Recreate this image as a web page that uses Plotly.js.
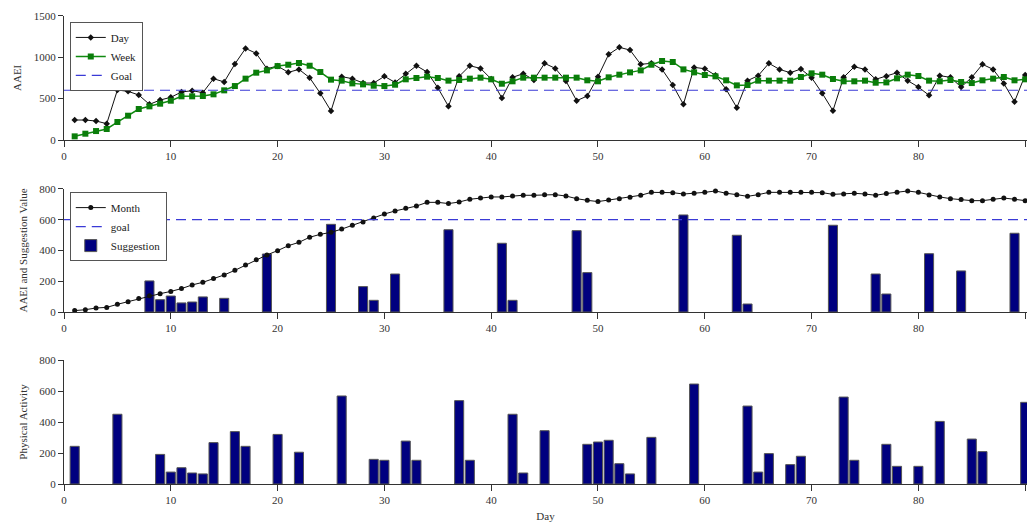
<!DOCTYPE html>
<html>
<head>
<meta charset="utf-8">
<script src="https://cdn.plot.ly/plotly-3.0.1.min.js"></script>
<style>html,body{margin:0;padding:0;background:#fff;}#chart{width:1027px;height:522px;}</style>
</head>
<body>
<div id="chart"></div>
<script>
const days = Array.from({length: 90}, (_, i) => i + 1);

const dayAAEI = [241,241,229,197,603,587,543,430,482,515,579,595,571,740,700,917,1105,1045,860,892,
  816,852,752,563,350,764,740,687,687,768,695,800,896,820,631,406,768,896,864,736,
  506,756,800,724,925,864,712,474,531,764,1033,1118,1085,913,925,852,663,430,876,860,
  780,611,390,716,776,925,852,812,856,752,563,354,756,884,852,732,768,812,716,639,
  539,776,756,639,756,913,852,683,462,784];

const weekAAEI = [44,76,108,133,217,293,374,406,438,474,527,527,531,551,599,651,740,812,840,892,
  908,929,896,820,728,716,683,671,655,651,667,732,748,764,748,716,724,740,752,732,
  679,708,752,752,752,752,752,752,720,708,756,788,816,840,908,953,941,852,816,784,
  768,720,659,663,716,716,716,716,760,804,788,736,708,708,716,691,695,744,788,772,
  716,708,724,700,687,720,740,760,720,732];

const monthAAEI = [9,15,26,30,50,67,87,106,119,134,152,176,193,217,241,271,306,340,371,399,
  431,453,486,505,518,539,564,585,611,637,657,674,689,713,713,705,715,733,741,748,
  748,754,759,759,763,763,754,737,726,718,728,737,746,759,778,778,776,767,772,778,
  787,772,763,752,763,778,778,778,778,778,776,765,767,772,767,759,770,778,787,778,
  761,748,737,731,724,724,733,741,733,724];

const goalValue = 600;

const suggestionDays = [8,9,10,11,12,13,15,19,25,28,29,31,36,41,42,48,49,58,63,64,72,76,77,81,84,89];
const suggestionValues = [202,80,104,59,65,98,89,377,570,165,76,247,535,447,76,529,256,631,499,52,564,247,117,379,267,512];

const activityDays = [1,5,9,10,11,12,13,14,16,17,20,22,26,29,30,32,33,37,38,42,43,45,49,50,51,52,53,55,59,64,65,66,68,69,73,74,77,78,80,82,85,86,90];
const activityValues = [243,450,191,77,105,71,65,267,338,243,320,205,568,159,153,277,153,538,153,450,71,344,256,271,282,131,65,301,645,503,77,196,125,179,561,153,256,114,114,404,290,209,527];

const xTicks = [0,10,20,30,40,50,60,70,80,90];

const FONT = 'Liberation Serif, Times New Roman, serif';
const AX = '#333333';
const xRange = [0, 90.17];

const traces = [
  {x: days, y: dayAAEI, name: 'Day', type: 'scatter', mode: 'lines+markers',
   line: {color: '#111111', width: 1}, marker: {symbol: 'diamond', size: 5, color: '#111111'},
   xaxis: 'x', yaxis: 'y', legend: 'legend', cliponaxis: false},
  {x: days, y: weekAAEI, name: 'Week', type: 'scatter', mode: 'lines+markers',
   line: {color: '#108a10', width: 1.5}, marker: {symbol: 'square', size: 6, color: '#0a7d0a'},
   xaxis: 'x', yaxis: 'y', legend: 'legend', cliponaxis: false},
  {x: [0, 90.17], y: [goalValue, goalValue], name: 'Goal', type: 'scatter', mode: 'lines',
   line: {color: '#3a3ad6', width: 1.2, dash: '10px,6px'},
   xaxis: 'x', yaxis: 'y', legend: 'legend'},

  {x: days, y: monthAAEI, name: 'Month', type: 'scatter', mode: 'lines+markers',
   line: {color: '#111111', width: 1}, marker: {symbol: 'circle', size: 5, color: '#111111'},
   xaxis: 'x2', yaxis: 'y2', legend: 'legend2', cliponaxis: false},
  {x: [0, 90.17], y: [goalValue, goalValue], name: 'goal', type: 'scatter', mode: 'lines',
   line: {color: '#3a3ad6', width: 1.2, dash: '10px,6px'},
   xaxis: 'x2', yaxis: 'y2', legend: 'legend2'},
  {x: suggestionDays, y: suggestionValues, name: 'Suggestion', type: 'bar', width: 0.85,
   marker: {color: '#00007f', line: {color: '#555555', width: 1}},
   xaxis: 'x2', yaxis: 'y2', legend: 'legend2'},

  {x: activityDays, y: activityValues, name: 'Physical Activity', type: 'bar', width: 0.85,
   marker: {color: '#00007f', line: {color: '#555555', width: 1}},
   xaxis: 'x3', yaxis: 'y3', showlegend: false}
];

function xAxis(domainAnchor, withTitle) {
  const a = {
    range: xRange, autorange: false, anchor: domainAnchor,
    showgrid: false, zeroline: false, showline: true, linecolor: AX, linewidth: 1,
    ticks: 'outside', ticklen: 6, tickcolor: AX, tickvals: xTicks, ticktext: xTicks.map(String),
    tickfont: {family: FONT, size: 11, color: '#333'}, domain: [0, 1], fixedrange: true
  };
  if (withTitle) a.title = {text: 'Day', font: {family: FONT, size: 11, color: '#333'}, standoff: 7};
  return a;
}
function yAxis(domain, range, dtick, title, xa) {
  return {
    domain: domain, range: range, autorange: false, anchor: xa, dtick: dtick,
    showgrid: false, zeroline: false, showline: true, linecolor: AX, linewidth: 1,
    ticks: 'outside', ticklen: 5, tickcolor: AX,
    tickfont: {family: FONT, size: 11, color: '#333'},
    title: {text: title, font: {family: FONT, size: 11, color: '#333'}, standoff: 9}
  };
}

const layout = {
  width: 1027, height: 522,
  margin: {l: 64, r: 0, t: 0, b: 0},
  paper_bgcolor: '#ffffff', plot_bgcolor: '#ffffff',
  showlegend: true,
  bargap: 0,
  xaxis: xAxis('y', false),
  yaxis: yAxis([0.7318, 0.970], [0, 1500], 500, 'AAEI', 'x'),
  xaxis2: xAxis('y2', false),
  yaxis2: yAxis([0.4023, 0.638], [0, 800], 200, 'AAEI and Suggestion Value', 'x2'),
  xaxis3: xAxis('y3', true),
  yaxis3: yAxis([0.0728, 0.3103], [0, 800], 200, 'Physical Activity', 'x3'),
  legend: {x: 0.006, y: 0.958, xanchor: 'left', yanchor: 'top', bgcolor: '#ffffff',
    bordercolor: '#555555', borderwidth: 1, font: {family: FONT, size: 11, color: '#222'},
    tracegroupgap: 0, itemwidth: 30},
  legend2: {x: 0.006, y: 0.632, xanchor: 'left', yanchor: 'top', bgcolor: '#ffffff',
    bordercolor: '#555555', borderwidth: 1, font: {family: FONT, size: 11, color: '#222'},
    tracegroupgap: 0, itemwidth: 30}
};

Plotly.newPlot('chart', traces, layout, {displayModeBar: false, staticPlot: true});
</script>
</body>
</html>
